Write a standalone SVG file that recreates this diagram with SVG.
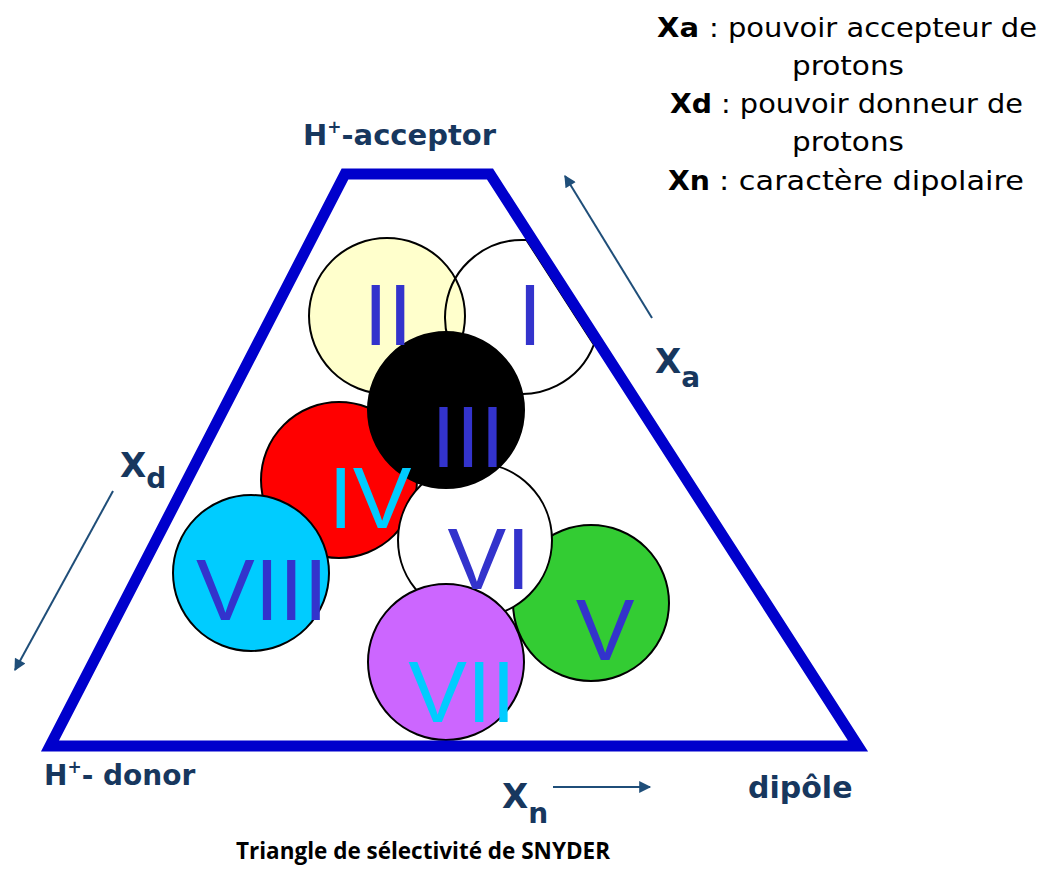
<svg xmlns="http://www.w3.org/2000/svg" width="1044" height="871" viewBox="0 0 1044 871">
<defs>
<style>
.circ{stroke:#000;stroke-width:2}
.num{font-family:"Liberation Sans",Arial,sans-serif;font-size:88px;text-anchor:middle}
.blue{fill:#3333CC}
.cyan{fill:#00CCFF}
.lbl{font-family:"DejaVu Sans",Verdana,sans-serif;font-weight:bold;fill:#17375E}
.note{font-family:"DejaVu Sans",sans-serif;font-size:27px;fill:#000}
.noteb{font-family:"DejaVu Sans",sans-serif;font-size:27px;font-weight:bold;fill:#000}
.arr{stroke:#1F4E79;stroke-width:2;fill:none;marker-end:url(#ah)}
</style>
<marker id="ah" viewBox="0 0 10 10" refX="9" refY="5" markerWidth="7" markerHeight="6" orient="auto" markerUnits="strokeWidth">
<path d="M0,0 L10,5 L0,10 Z" fill="#1F4E79"/>
</marker>
</defs>
<rect width="1044" height="871" fill="#fff"/>

<g id="circle-II"><circle class="circ" cx="387" cy="316" r="78" fill="#FFFFCC"/></g>
<g id="circle-I"><path class="circ" d="M526.6,240.1 L593.9,344.7 A77,77 0 1 1 526.6,240.1 Z" fill="none"/></g>
<g id="circle-IV"><circle class="circ" cx="339" cy="480" r="78" fill="#FF0000"/></g>
<g id="circle-VIII"><circle class="circ" cx="251" cy="573" r="78" fill="#00CCFF"/></g>
<g id="circle-V"><circle class="circ" cx="591" cy="603" r="78" fill="#33CC33"/></g>
<g id="circle-VI"><circle class="circ" cx="475" cy="540" r="77" fill="#FFFFFF"/></g>
<g id="circle-VII"><circle class="circ" cx="446" cy="662" r="78" fill="#CC66FF"/></g>
<g id="circle-III"><circle class="circ" cx="446" cy="410" r="78" fill="#000000"/></g>

<g id="triangle"><polygon points="345,174 490,174 858,746 50,746" fill="none" stroke="#0000CC" stroke-width="11" stroke-linejoin="miter" stroke-miterlimit="3"/></g>

<g id="roman-labels">
<text class="num blue" x="388" y="345">II</text>
<text class="num blue" x="530" y="345">I</text>
<text class="num blue" x="468" y="467">III</text>
<text class="num cyan" x="370" y="528">IV</text>
<text class="num blue" x="489" y="589">VI</text>
<text class="num blue" x="262" y="620">VIII</text>
<text class="num blue" x="605" y="660">V</text>
<text class="num cyan" x="462" y="722">VII</text>
</g>

<g id="connectors">
<line class="arr" x1="652" y1="318" x2="565" y2="176"/>
<line class="arr" x1="113" y1="491" x2="15" y2="670"/>
<line class="arr" x1="553" y1="787" x2="650" y2="787"/>
</g>

<g id="axis-labels">
<text class="lbl" x="303" y="145" font-size="29">H<tspan font-size="17" dy="-12">+</tspan><tspan dy="12">-acceptor</tspan></text>
<text class="lbl" x="44" y="785" font-size="28">H<tspan font-size="17" dy="-12">+</tspan><tspan dy="12">- donor</tspan></text>
<text class="lbl" x="748" y="798" font-size="30">dipôle</text>
<text class="lbl" x="655" y="373" font-size="34">X<tspan font-size="28" dy="14">a</tspan></text>
<text class="lbl" x="120" y="477" font-size="34">X<tspan font-size="28" dy="11">d</tspan></text>
<text class="lbl" x="502" y="808" font-size="34">X<tspan font-size="28" dy="15">n</tspan></text>
</g>

<g id="legend">
<text class="noteb" x="657" y="37" textLength="42" lengthAdjust="spacingAndGlyphs">Xa</text>
<text class="note" x="709" y="37" textLength="328" lengthAdjust="spacingAndGlyphs">: pouvoir accepteur de</text>
<text class="note" x="848" y="75" text-anchor="middle" textLength="112" lengthAdjust="spacingAndGlyphs">protons</text>
<text class="noteb" x="670" y="113" textLength="42" lengthAdjust="spacingAndGlyphs">Xd</text>
<text class="note" x="721" y="113" textLength="302" lengthAdjust="spacingAndGlyphs">: pouvoir donneur de</text>
<text class="note" x="848" y="151" text-anchor="middle" textLength="112" lengthAdjust="spacingAndGlyphs">protons</text>
<text class="noteb" x="668" y="190" textLength="42" lengthAdjust="spacingAndGlyphs">Xn</text>
<text class="note" x="719" y="190" textLength="305" lengthAdjust="spacingAndGlyphs">: caractère dipolaire</text>
</g>

<text x="236" y="859" font-family="'Open Sans',sans-serif" font-weight="bold" font-size="24" textLength="374" lengthAdjust="spacingAndGlyphs" fill="#000">Triangle de sélectivité de SNYDER</text>
</svg>
